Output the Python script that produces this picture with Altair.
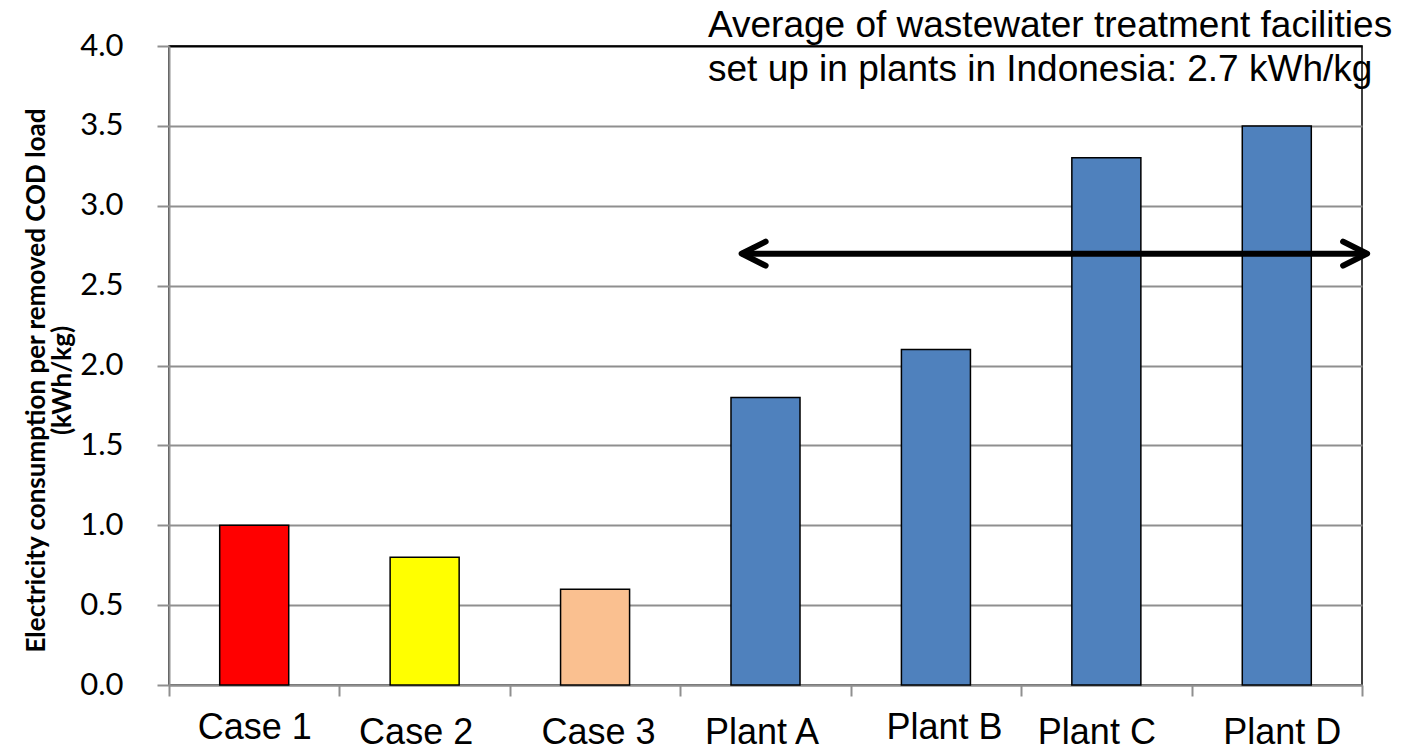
import altair as alt
import pandas as pd

# Electricity use per kg of COD removed, by case / plant
categories = ["Case 1", "Case 2", "Case 3", "Plant A", "Plant B", "Plant C", "Plant D"]
consumption = [1.0, 0.8, 0.6, 1.8, 2.1, 3.3, 3.5]
bar_colors = ["#FF0000", "#FFFF00", "#FAC090", "#4F81BD", "#4F81BD", "#4F81BD", "#4F81BD"]

# Average of the Indonesian plant facilities, drawn as a double-headed arrow.
# Arrow ends are given in category-step units (0 = left edge, 7 = right edge).
average_value = 2.7
arrow_start = 3.36
arrow_end = 7.03

y_ticks = [0.0, 0.5, 1.0, 1.5, 2.0, 2.5, 3.0, 3.5, 4.0]

bars_df = pd.DataFrame({"category": categories, "value": consumption, "color": bar_colors})
arrow_df = pd.DataFrame({"x1": [arrow_start], "x2": [arrow_end], "y": [average_value]})
heads_df = pd.DataFrame({"x": [arrow_start, arrow_end], "y": [average_value] * 2,
                         "side": ["left", "right"]})

W, H = 1193, 639
GRAY = "#8f8f8f"

x_label_shift = {
    "condition": [
        {"test": "datum.value === 'Case 2'", "value": -9},
        {"test": "datum.value === 'Case 3'", "value": 3},
        {"test": "datum.value === 'Plant A'", "value": -4},
        {"test": "datum.value === 'Plant B'", "value": 8},
        {"test": "datum.value === 'Plant C'", "value": -10},
        {"test": "datum.value === 'Plant D'", "value": 5},
    ],
    "value": 0,
}
x_label_pad = {
    "condition": {"test": "datum.value === 'Case 1' || datum.value === 'Plant B'", "value": 14},
    "value": 19,
}

y_scale = alt.Scale(domain=[0, 4], nice=False)

bars = alt.Chart(bars_df).mark_bar(
    stroke="black", strokeWidth=1.5, width=alt.RelativeBandSize(0.405)
).encode(
    x=alt.X(
        "category:N",
        sort=categories,
        scale=alt.Scale(paddingInner=0, paddingOuter=0),
        axis=alt.Axis(
            title=None, labelAngle=0, tickBand="extent", ticks=True, tickSize=11,
            tickColor=GRAY, tickWidth=2, domainColor=GRAY, domainWidth=2,
            labelFont="Liberation Sans", labelFontSize=36, labelColor="black",
            labelPadding=x_label_pad, labelOffset=x_label_shift, grid=False,
        ),
    ),
    y=alt.Y(
        "value:Q",
        scale=y_scale,
        axis=alt.Axis(
            values=y_ticks, format=".1f", labelFont="Lato", labelFontSize=31,
            labelColor="black", labelPadding=34, tickSize=12, tickColor=GRAY,
            tickWidth=2, domainColor=GRAY, domainWidth=2, grid=True,
            gridColor={"condition": {"test": "datum.value === 4", "value": "black"}, "value": GRAY},
            gridWidth=2,
            title=["Electricity consumption per removed COD load", "(kWh/kg)"],
            titleFont="Lato", titleFontWeight="bold", titleFontSize=26,
            titleColor="black", titlePadding=4, titleLineHeight=26, titleY=334,
        ),
    ),
    color=alt.Color("color:N", scale=None),
)

arrow_x_scale = alt.Scale(domain=[0, 7], nice=False, zero=False)

arrow_line = alt.Chart(arrow_df).mark_rule(color="black", strokeWidth=6).encode(
    x=alt.X("x1:Q", scale=arrow_x_scale, axis=None),
    x2="x2:Q",
    y=alt.Y("y:Q", scale=y_scale),
)

left_head = "M1,-0.5L0,0L1,0.5"
right_head = "M-1,-0.5L0,0L-1,0.5"

arrow_heads = alt.Chart(heads_df).mark_point(
    filled=False, size=2300, color="black", strokeWidth=6, opacity=1,
    strokeCap="round", strokeJoin="round",
).encode(
    x=alt.X("x:Q", scale=arrow_x_scale, axis=None),
    y=alt.Y("y:Q", scale=y_scale),
    shape=alt.Shape("side:N", scale=alt.Scale(domain=["left", "right"],
                                             range=[left_head, right_head]), legend=None),
)

chart = alt.layer(bars, arrow_line, arrow_heads).resolve_scale(
    x="independent"
).properties(
    width=W,
    height=H,
    padding={"left": 169, "top": 46, "right": 44, "bottom": 66},
    autosize=alt.AutoSizeParams(type="none"),
    title=alt.TitleParams(
        text=["Average of wastewater treatment facilities",
              "set up in plants in Indonesia: 2.7 kWh/kg"],
        anchor="start", frame="group", orient="top", dx=539, offset=23, dy=82,
        baseline="top", align="left", font="Liberation Sans", fontSize=37,
        fontWeight="normal", color="black", lineHeight=44,
    ),
).configure_view(stroke="black", strokeWidth=1.5)

chart.save("out.html", embed_options={"renderer": "svg", "actions": False})
